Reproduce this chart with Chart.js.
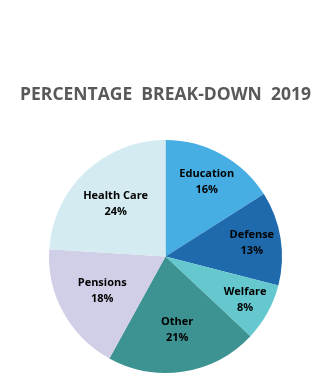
<!DOCTYPE html>
<html>
<head>
<meta charset="utf-8">
<script src="https://cdn.jsdelivr.net/npm/chart.js@4"></script>
<style>
  html, body { margin: 0; padding: 0; background: #fff; }
  #wrap { width: 326px; height: 385px; }
</style>
</head>
<body>
<div id="wrap"><canvas id="breakdown"></canvas></div>
<script>
const CATEGORIES = ["Education", "Defense", "Welfare", "Other", "Pensions", "Health Care"];
const PERCENTAGES = [16, 13, 8, 21, 18, 24];
const SLICE_COLORS = ["#47aee3", "#1e6aac", "#65c8cf", "#3c9391", "#d1cee7", "#d4ebf1"];

// how far out (fraction of the radius) each slice label sits
const LABEL_DEPTH = [0.735, 0.75, 0.78, 0.64, 0.62, 0.625];

// draws "name / pct%" inside each slice
const sliceLabels = {
  id: "sliceLabels",
  afterDatasetsDraw(chart) {
    const ctx = chart.ctx;
    const meta = chart.getDatasetMeta(0);
    ctx.save();
    ctx.fillStyle = "#000";
    ctx.font = "bold 11px 'Open Sans'";
    ctx.textAlign = "center";
    ctx.textBaseline = "middle";
    meta.data.forEach((arc, i) => {
      const mid = (arc.startAngle + arc.endAngle) / 2;
      const r = arc.outerRadius * LABEL_DEPTH[i];
      const x = arc.x + Math.cos(mid) * r;
      const y = arc.y + Math.sin(mid) * r;
      ctx.fillText(CATEGORIES[i], x, y - 8);
      ctx.fillText(PERCENTAGES[i] + "%", x, y + 8);
    });
    ctx.restore();
  },
};

new Chart(document.getElementById("breakdown"), {
  type: "pie",
  data: {
    labels: CATEGORIES,
    datasets: [
      {
        data: PERCENTAGES,
        backgroundColor: SLICE_COLORS,
        borderWidth: 0,
      },
    ],
  },
  options: {
    responsive: true,
    maintainAspectRatio: false,
    animation: false,
    layout: { padding: { left: 5, right: 0, top: 0, bottom: 12 } },
    plugins: {
      legend: { display: false },
      tooltip: { enabled: false },
      title: {
        display: true,
        text: "PERCENTAGE  BREAK-DOWN  2019",
        color: "#595959",
        font: { family: "'Open Sans'", size: 17.5, weight: "bold", lineHeight: 1.2 },
        padding: { top: 85, bottom: 34 },
      },
    },
  },
  plugins: [sliceLabels],
});
</script>
</body>
</html>
